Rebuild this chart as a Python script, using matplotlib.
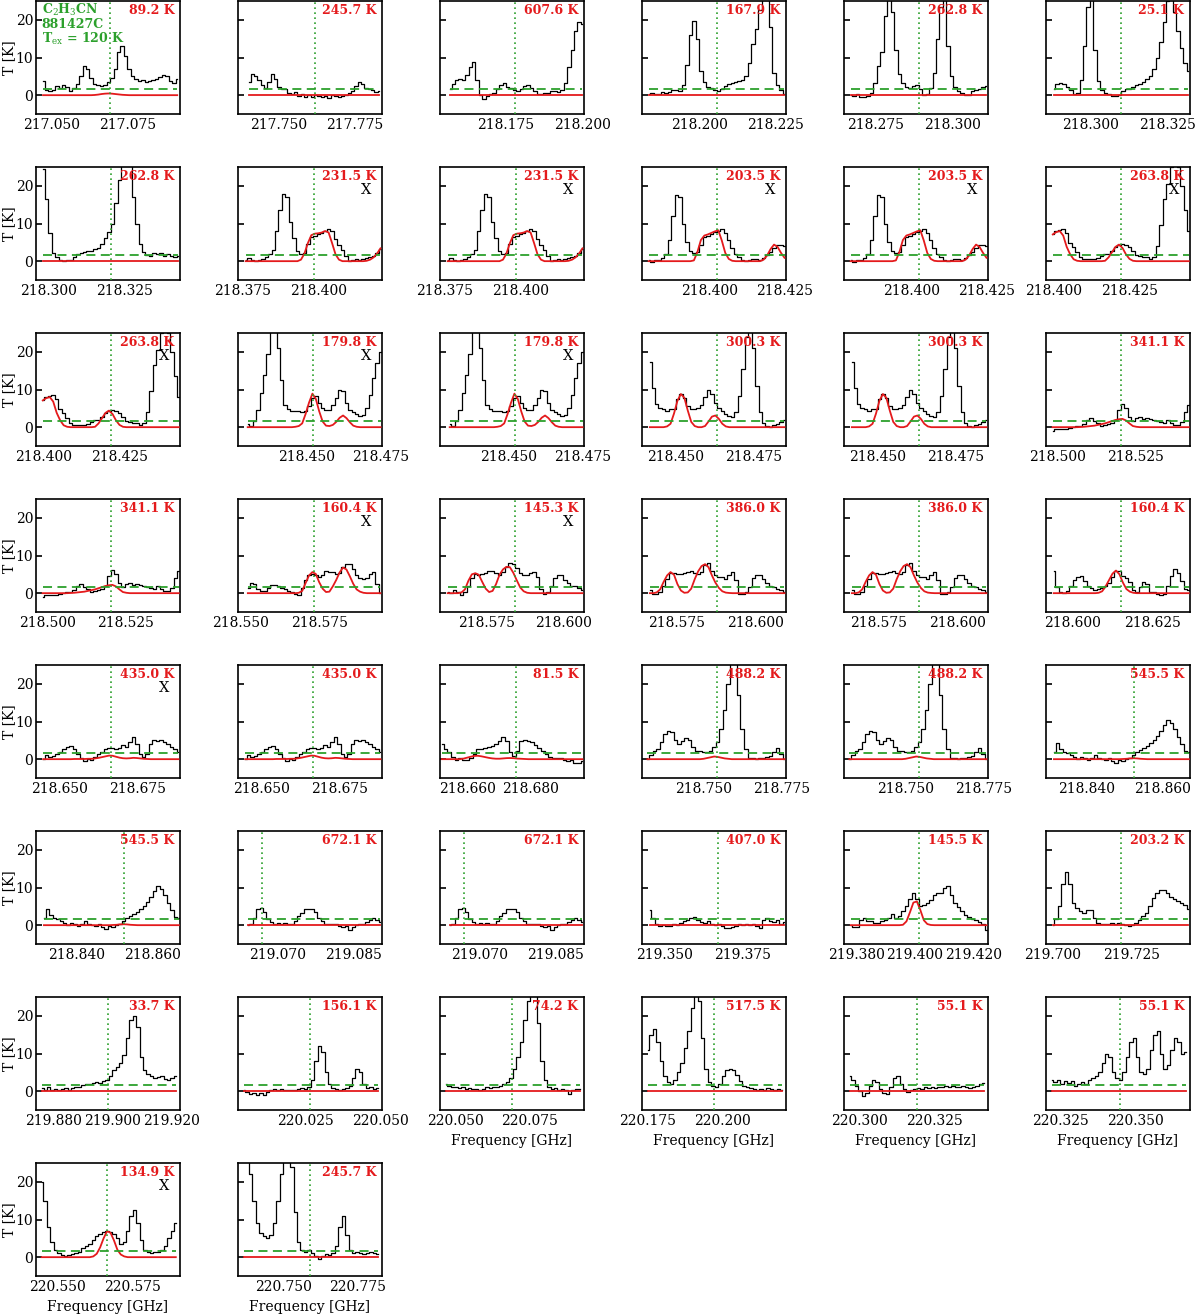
import matplotlib
matplotlib.use("Agg")
import matplotlib.pyplot as plt
import numpy as np

plt.rcParams["font.family"] = "DejaVu Serif"
plt.rcParams["mathtext.fontset"] = "dejavuserif"

GREEN = "#2ca02c"
RED = "#e41a1c"

t_cut = 1.7          # dashed threshold [K]
y_range = (-5, 25)

# ---- observed spectra (T [K]) and model, one pair per frequency window ----
tA = [3.8, 1.5, 1.0, 1.5, 2.4, 2.0, 2.8, 2.2, 1.0, 2.0, 3.0, 5.0, 7.8, 7.0, 4.5, 2.9, 2.6, 2.5, 2.8, 3.5,
      4.5, 7.0, 11.5, 13.0, 10.5, 7.0, 5.0, 4.3, 3.8, 4.0, 3.6, 3.8, 4.0, 4.2, 4.8, 5.3, 5.0, 3.8, 3.3, 4.2]
mA = [0] * 15 + [0.05, 0.15, 0.3, 0.4, 0.45, 0.4, 0.3, 0.2, 0.1, 0.05] + [0] * 15
tB = [3.4, 5.5, 5.0, 4.0, 2.6, 1.9, 3.5, 5.6, 4.3, 2.2, 1.7, 1.6, 0.5, 0.2, 0.9, -0.2, 0.4, -0.6, 0.0, -0.4,
      0.1, -0.3, -0.6, -0.2, -0.8, 0.0, -0.2, -0.6, -0.2, 0.1, 0.5, 1.2, 2.5, 3.6, 2.9, 2.0, 1.6, 1.3, 0.8, 1.2]
mB = [0] * 40
tC = [1.6, 3.0, 3.9, 4.4, 3.9, 5.3, 7.6, 8.8, 4.0, 0.0, -1.1, -0.2, 0.3, 0.7, 1.7, 2.6, 3.3, 2.2, 1.9, 1.4,
      1.2, 1.6, 2.5, 2.8, 1.8, 1.0, 0.4, 0.4, 0.7, 0.6, 1.0, 1.2, 0.8, 1.3, 3.2, 7.5, 12.0, 17.0, 19.5, 18.8]
mC = [0] * 40
tD = [0.3, 0.7, 0.2, 0.3, 0.8, 0.6, 0.9, 1.4, 1.5, 1.0, 2.6, 8.0, 16.0, 19.8, 15.0, 6.5, 3.4, 2.3, 1.9, 1.4,
      1.2, 1.6, 2.5, 3.0, 3.3, 3.4, 3.8, 4.0, 5.0, 8.5, 13.5, 17.5, 22.5, 27, 28, 18, 6.0, 2.8, 1.4, 0.4]
mD = [0] * 40
tE = [0.0, -0.2, 0.3, -0.5, -0.5, -0.2, 0.6, 3.2, 7.8, 11.5, 21, 27, 22, 12, 5.5, 3.3, 2.3, 1.9, 2.4, 2.8,
      1.6, 0.1, 0.4, 2.0, 6.0, 15.0, 23.5, 27, 13, 5.0, 2.1, 1.2, 0.5, 0.1, 0.1, 1.2, 1.4, 1.6, 2.3, 2.5]
mE = [0] * 40
tF = [1.6, 3.0, 3.1, 2.9, 2.2, 1.3, 0.3, 0.5, 4.0, 13, 23.4, 26, 12, 3.8, 1.3, 0.5, 0.2, -0.1, -0.2, 0.0,
      1.0, 1.6, 1.6, 2.3, 2.6, 3.0, 3.5, 4.3, 5.1, 7.0, 10.0, 14, 19.5, 25, 26, 22, 17, 12.5, 8.5, 6.5]
mF = [0] * 40
tG = [24.4, 16.5, 7.5, 2.2, 1.0, 0.4, 0.0, 0.2, 0.4, 1.0, 2.0, 2.3, 2.4, 2.6, 2.8, 3.1, 3.5, 4.6, 6.2, 7.8,
      10.0, 15.5, 21.5, 25.5, 28, 26, 17, 10, 4.5, 2.4, 1.7, 1.3, 2.2, 1.8, 2.2, 1.5, 2.0, 1.3, 1.2, 1.5]
mG = [0] * 40
tH = [0.4, 0.9, 0.4, 0.1, 0.3, 0.7, 1.1, 1.9, 3.0, 8.0, 13.5, 17.8, 17.0, 10.5, 6.2, 2.8, 1.8, 2.3, 4.5, 6.5,
      6.8, 7.1, 7.5, 8.0, 8.6, 7.9, 5.8, 4.3, 2.9, 1.4, 0.0, 0.3, 0.5, 0.4, 0.6, 0.8, 1.0, 1.3, 2.1, 3.3]
mH = [0] * 16 + [0.4, 2.0, 4.8, 6.9, 7.3, 7.4, 7.6, 8.0, 7.6, 4.8, 1.8, 0.4] + [0] * 7 + [0.1, 0.4, 1.0, 2.0, 3.4]
tI = [0.3, -0.3, 0.3, 0.4, 0.9, 1.8, 5.5, 12.0, 17.5, 17.0, 10.0, 5.0, 2.6, 2.2, 2.5, 4.3, 6.3, 6.8, 7.1, 7.7,
      8.0, 8.5, 7.5, 5.5, 3.6, 1.8, 1.0, 0.3, 0.0, 0.3, 0.6, 0.5, 0.4, 0.9, 1.6, 2.4, 3.5, 4.4, 4.4, 4.0]
mI = [0] * 13 + [0.2, 2.4, 5.6, 6.8, 7.1, 7.5, 7.9, 8.2, 5.5, 2.2, 0.6, 0.1] + [0] * 8 + [0.4, 1.5, 3.2, 4.4, 3.8, 2.2, 0.9]
tJ = [7.1, 7.9, 8.4, 8.6, 7.5, 4.9, 3.7, 2.4, 1.2, 0.5, 0.5, 0.5, 0.6, 0.9, 1.3, 1.8, 2.0, 2.8, 3.8, 4.4,
      4.6, 4.4, 3.8, 2.6, 1.7, 1.3, 1.2, 1.0, 0.5, 1.2, 4.0, 9.5, 16.5, 20.5, 25, 27, 25, 20, 13.5, 8.0]
mJ = [7.1, 7.7, 8.0, 6.8, 3.8, 1.8, 0.5, 0.1] + [0] * 7 + [0.1, 1.0, 2.4, 3.8, 4.4, 3.5, 1.8, 0.6, 0.1] + [0] * 16
tK = [0.9, 0.3, 1.6, 4.5, 9.0, 13.8, 19.5, 25.5, 28, 21, 12.5, 6.0, 4.7, 4.4, 4.2, 4.4, 4.1, 4.2, 5.5, 7.8,
      8.3, 6.5, 5.0, 4.5, 4.6, 5.8, 7.8, 9.8, 9.6, 6.4, 4.5, 4.1, 3.4, 2.9, 3.3, 5.0, 8.5, 13.0, 17.0, 20.0]
mK = [0] * 14 + [0.1, 0.3, 1.0, 3.5, 6.5, 8.9, 7.5, 4.2, 1.5, 0.4, 0.3, 0.6, 1.4, 2.5, 3.1, 2.4, 1.3, 0.4, 0.1] + [0] * 7
tL = [17.3, 10.5, 6.2, 5.1, 4.7, 4.4, 4.8, 4.7, 7.6, 8.9, 7.8, 5.6, 4.8, 4.7, 5.0, 6.0, 8.0, 10.0, 8.8, 6.3,
      5.1, 4.3, 3.6, 2.9, 2.7, 4.0, 8.4, 15.5, 24.0, 28, 21, 11, 4.0, 1.2, 0.2, 0.1, 0.5, 0.9, 1.3, 2.0]
mL = [0, 0, 0, 0, 0, 0.2, 0.9, 3.6, 7.0, 8.8, 7.8, 4.4, 1.4, 0.3, 0, 0, 0.3, 1.5, 2.8, 3.1, 2.2, 0.9, 0.2] + [0] * 17
tM = [-0.9, -0.5, -0.6, -0.4, -0.5, -0.3, 0.0, 0.2, 0.4, 0.9, 1.8, 2.4, 1.7, 1.1, 0.4, 0.6, 0.9, 1.2, 2.0, 4.6,
      6.2, 5.0, 2.6, 1.7, 2.5, 2.6, 2.2, 2.4, 2.1, 1.9, 1.6, 1.3, 1.2, 1.8, 1.2, 0.5, 0.5, 1.5, 4.0, 5.8]
mM = [0] * 8 + [0.05, 0.1, 0.2, 0.3, 0.4, 0.6, 0.8, 1.0, 1.3, 1.6, 1.9, 2.1, 2.2, 1.8, 1.0, 0.3, 0.1] + [0] * 15
tN = [1.3, 2.6, 2.4, 1.2, 0.5, 0.6, 1.4, 2.2, 2.3, 1.8, 1.3, 1.0, 0.6, 0.2, -0.3, -0.5, 1.5, 3.4, 4.8, 5.2,
      4.8, 4.3, 4.8, 5.9, 5.5, 5.5, 5.2, 5.4, 7.0, 7.8, 7.8, 6.3, 4.8, 4.0, 3.7, 4.0, 5.0, 5.5, 2.5, 0.0]
mN = [0] * 15 + [0.1, 0.6, 2.7, 4.7, 5.6, 5.1, 2.9, 1.2, 0.3, 0.4, 1.8, 3.5, 5.5, 6.8, 6.3, 4.5, 2.5, 1.0, 0.4, 0.1] + [0] * 5
tO = [0.4, 0.0, 0.8, 0.4, -0.4, 0.3, 2.0, 4.0, 5.2, 4.9, 5.0, 5.4, 5.8, 6.0, 5.4, 4.9, 5.6, 6.9, 7.9, 7.8,
      6.6, 5.4, 4.8, 4.8, 5.3, 5.7, 4.2, 1.0, -0.3, 0.4, 2.0, 4.1, 4.8, 4.7, 3.6, 2.6, 2.0, 1.8, 1.3, 0.9]
mO = [0, 0, 0, 0, 0.2, 1.0, 3.3, 5.0, 5.3, 4.9, 3.0, 1.2, 0.3, 0.6, 2.4, 4.9, 6.3, 7.0, 6.9, 5.4, 3.4, 1.5, 0.5, 0.1] + [0] * 16
tP = [0.9, -0.1, -0.3, 0.4, 2.0, 3.8, 5.3, 5.4, 5.0, 5.0, 5.4, 5.6, 6.0, 5.3, 5.1, 5.7, 7.5, 7.9, 6.0, 4.8,
      4.4, 4.2, 3.7, 4.9, 5.7, 3.5, -0.1, -0.2, 0.4, 1.6, 4.0, 4.8, 4.7, 3.8, 2.8, 2.0, 1.6, 1.2, 0.9, 0.4]
mP = [0, 0, 0.2, 1.0, 3.0, 4.7, 5.6, 4.9, 2.4, 0.7, 0.1, 0.2, 1.2, 3.7, 5.8, 7.2, 7.7, 6.9, 4.7, 2.8, 1.4, 0.5, 0.15, 0.05] + [0] * 16
tQ = [5.8, 1.6, 0.3, 0.0, 0.5, 2.0, 3.5, 4.4, 4.5, 3.3, 2.0, 1.3, 0.9, 1.1, 1.5, 1.9, 2.6, 4.2, 5.8, 5.8,
      4.6, 3.9, 2.9, 0.8, 0.3, 1.6, 3.0, 2.5, 0.3, 0.2, -0.1, -0.4, -0.2, 1.8, 4.5, 6.5, 5.4, 3.2, 1.2, 0.9]
mQ = [0] * 13 + [0.1, 0.5, 1.8, 3.5, 5.2, 6.0, 5.0, 2.8, 1.1, 0.4, 0.1] + [0] * 16
tR = [0.0, 1.1, 0.6, 0.8, 1.4, 2.0, 2.7, 3.3, 3.6, 2.6, 1.4, 0.3, -0.4, 0.1, -0.2, 0.5, 1.5, 2.0, 2.7, 2.9,
      2.9, 2.7, 3.0, 3.8, 3.2, 4.5, 6.0, 4.0, 1.3, 0.5, 1.5, 4.0, 5.2, 4.9, 5.1, 4.6, 4.0, 3.3, 2.6, 1.8]
mR = [0] * 9 + [0.05, 0.05, 0.05, 0.05, 0.1, 0.1, 0.2, 0.35, 0.55, 0.75, 0.95, 0.9, 0.65, 0.4, 0.25, 0.2,
                0.25, 0.35, 0.3, 0.2, 0.1, 0.05] + [0] * 9
tS = [4.0, 2.8, 1.9, 0.6, -0.2, 0.3, -0.3, -0.1, 0.3, 1.4, 2.6, 2.8, 3.0, 3.2, 3.4, 4.0, 4.9, 5.9, 4.9, 1.8,
      0.9, 2.3, 4.8, 5.1, 4.9, 4.5, 3.7, 2.9, 2.2, 1.4, 0.7, 0.3, 0.4, 0.2, -0.3, -0.5, -0.1, -1.1, -0.9, -0.4]
mS = [0] * 6 + [0.15, 0.4, 0.65, 0.85, 0.9, 0.75, 0.55, 0.35, 0.2, 0.12, 0.12, 0.2, 0.28, 0.3, 0.25, 0.15, 0.1, 0.05] + [0] * 16
tT = [0.0, 1.0, 2.2, 2.7, 4.6, 6.8, 7.6, 7.3, 5.2, 4.1, 4.9, 5.5, 5.0, 3.3, 2.1, 2.1, 2.0, 1.9, 2.3, 3.2,
      4.6, 8.0, 13.0, 20.0, 26, 26, 17, 8.0, 2.6, 0.4, 0.2, 0.1, 0.3, 0.4, 0.6, 0.9, 1.9, 3.0, 1.5, 0.0]
mT = [0] * 16 + [0.1, 0.3, 0.5, 0.7, 0.6, 0.4, 0.2, 0.1] + [0] * 16
tU = [1.8, 4.3, 2.6, 1.9, 1.6, 1.1, 0.5, 0.0, 0.6, 0.2, -0.1, 0.4, 1.2, 0.3, 0.0, -0.2, 0.3, -0.6, -0.9, -0.3,
      -0.4, 0.0, 0.4, 1.0, 1.8, 2.4, 3.0, 3.6, 4.2, 5.0, 6.2, 7.4, 9.0, 10.4, 9.7, 8.0, 6.0, 4.0, 2.3, 1.8]
mU = [0] * 20 + [0.05, 0.1, 0.2, 0.25, 0.2, 0.1, 0.05] + [0] * 13
tV = [0.0, 0.4, 1.8, 4.2, 4.6, 3.4, 1.7, 0.9, 0.4, 0.6, 0.4, 0.6, 0.3, 0.4, 1.2, 2.4, 3.3, 4.2, 4.4, 4.2,
      3.4, 2.0, 1.0, 0.4, 0.3, 0.4, 0.3, -0.2, -0.4, -0.3, -1.2, -0.5, 0.0, 0.3, 0.4, 0.9, 1.4, 1.8, 1.4, 0.9]
mV = [0] * 40
tW = [4.0, 2.0, 0.4, -0.3, 0.0, -0.3, -0.1, 0.3, 0.1, 0.6, 1.1, 1.5, 1.8, 2.1, 1.4, 0.8, 0.7, 1.2, 0.4, 0.0,
      0.2, -0.2, -0.8, -0.8, -0.6, -0.3, 0.3, 0.1, 0.3, 0.0, 0.4, -0.2, -0.8, 1.5, 2.0, 1.2, 0.9, 1.3, 0.4, 0.9]
mW = [0] * 40
tX = [0.0, -0.6, -0.4, 1.3, 1.8, 1.0, 1.2, 0.7, 0.6, 1.1, 1.3, 1.8, 2.9, 1.9, 2.5, 3.8, 5.0, 7.0, 8.5, 7.0,
      5.1, 5.3, 6.0, 6.7, 8.0, 8.5, 8.6, 9.8, 10.4, 8.0, 6.0, 4.8, 3.7, 2.7, 2.1, 1.6, 1.3, 0.9, 0.3, -1.2]
mX = [0] * 15 + [0.1, 1.0, 3.4, 6.0, 6.3, 4.0, 1.3, 0.3, 0.05] + [0] * 16
tY = [0.0, 1.6, 5.0, 11.0, 14.2, 11.0, 6.0, 4.6, 3.8, 3.2, 4.0, 4.0, 2.0, 0.7, 0.4, 0.4, 0.3, 0.6, 0.4, 0.6,
      0.3, 0.1, -0.2, 0.0, 0.6, 1.5, 2.5, 3.3, 5.2, 7.3, 8.6, 9.3, 9.4, 8.5, 7.5, 7.0, 6.5, 5.9, 5.3, 4.4]
mY = [0] * 40
tZ = [0.8, 0.4, 1.0, 0.3, 0.6, 0.2, 0.5, 0.9, 0.4, 0.8, 1.2, 1.0, 1.6, 2.0, 1.8, 2.2, 2.5, 2.3, 2.8, 3.0,
      4.0, 5.5, 6.5, 7.5, 9.5, 14.0, 19.0, 20.0, 17.0, 9.0, 5.5, 4.5, 4.0, 3.5, 3.8, 4.0, 3.2, 3.0, 3.6, 4.0]
mZ = [0] * 40
tAA = [0.2, -0.3, -0.8, -0.5, -1.0, -0.4, -0.9, -0.3, 0.2, 0.5, 0.3, 0.6, 0.4, 0.2, 0.4, 0.3, 0.6, 0.8, 0.5, 1.2,
       3.0, 8.0, 12.0, 10.5, 5.0, 2.0, 0.8, 0.5, 0.3, 0.6, 0.8, 1.5, 3.5, 6.0, 5.0, 2.0, 0.8, 1.0, 0.6, 0.8]
mAA = [0] * 40
tAB = [2.0, 1.5, 1.0, 1.2, 0.8, 1.0, 0.6, 0.9, 0.5, 0.7, 0.4, 0.6, 1.0, 0.8, 1.2, 1.0, 1.5, 2.0, 2.5, 3.5,
       6.0, 9.0, 13.0, 19.0, 24.0, 27.0, 26.0, 18.0, 8.0, 3.0, 1.0, 0.5, 0.8, 0.4, 0.6, 0.2, -0.8, 0.3, 0.5, 0.6]
mAB = [0] * 40
tAC = [11.0, 15.0, 16.5, 13.0, 8.0, 4.0, 2.5, 2.0, 3.0, 5.0, 7.5, 11.5, 16.0, 22.0, 27.0, 24.0, 14.0, 6.0, 2.5, 1.5,
       1.2, 2.0, 4.0, 5.5, 6.0, 5.5, 4.2, 2.8, 1.5, 1.0, 0.8, 0.5, 0.3, 0.6, 0.4, 0.8, 0.6, 0.3, 0.5, 0.4]
mAC = [0] * 40
tAD = [4.0, 3.0, 1.5, 0.0, -1.2, -0.5, 1.5, 3.0, 2.5, 0.5, -0.5, -0.8, 1.0, 3.5, 4.0, 2.0, 0.5, -0.3, 0.2, 0.5,
       0.8, 0.6, 1.0, 0.8, 1.2, 0.9, 1.1, 1.0, 1.3, 1.2, 1.5, 1.2, 1.0, 1.4, 1.1, 0.8, 1.0, 1.5, 2.0, 2.2]
mAD = [0] * 40
tAE = [3.0, 2.5, 3.0, 2.0, 2.8, 2.2, 2.6, 1.5, 1.8, 2.5, 2.0, 3.0, 3.5, 4.0, 5.0, 7.5, 10.0, 9.0, 5.0, 3.5,
       3.0, 5.0, 9.0, 13.0, 14.0, 9.0, 5.0, 4.5, 6.0, 11.0, 15.0, 16.0, 10.0, 6.0, 7.0, 11.0, 14.0, 13.0, 10.0, 10.5]
mAE = [0] * 40
tAF = [20.0, 15.0, 8.0, 4.0, 2.0, 1.0, 0.5, 0.3, 0.6, 0.8, 1.0, 1.5, 2.5, 3.0, 3.5, 4.5, 5.5, 6.2, 6.8, 7.0,
       6.8, 6.2, 5.0, 3.5, 4.0, 7.0, 11.0, 12.5, 9.0, 4.5, 2.0, 1.5, 1.2, 1.5, 1.3, 2.0, 3.0, 5.0, 7.0, 9.0]
mAF = [0] * 15 + [0.2, 0.9, 2.6, 5.0, 6.9, 6.5, 4.5, 2.0, 0.7, 0.2] + [0] * 15
tAG = [30, 28, 22, 15, 9, 6.5, 5.5, 5.0, 6.0, 9.0, 15.0, 22, 28, 30, 24, 12, 4.0, 2.0, 1.5, 1.8,
       1.2, 0.2, -0.5, 0.3, 0.8, 0.5, 1.0, 3.0, 8.0, 11.0, 6.0, 2.0, 1.0, 1.5, 1.2, 0.8, 1.0, 1.3, 1.0, 0.8]
mAG = [0] * 40

seg_obs = [tA, tB, tC, tD, tE, tF, tG, tH, tI, tJ, tK, tL, tM, tN, tO, tP, tQ, tR, tS, tT, tU, tV,
           tW, tX, tY, tZ, tAA, tAB, tAC, tAD, tAE, tAF, tAG]
seg_mod = [mA, mB, mC, mD, mE, mF, mG, mH, mI, mJ, mK, mL, mM, mN, mO, mP, mQ, mR, mS, mT, mU, mV,
           mW, mX, mY, mZ, mAA, mAB, mAC, mAD, mAE, mAF, mAG]

# first / last channel frequency of each window [GHz]
seg_f0 = [217.0473, 217.7405, 218.1567, 218.1835, 218.2669, 218.2880, 218.2983, 218.3761, 218.3797,
          218.3998, 218.4298, 218.4417, 218.4985, 218.5524, 218.5622, 218.5663, 218.5940, 218.6448,
          218.6520, 218.7321, 218.8313, 219.0640, 219.3451, 219.3781, 219.7001, 219.8760, 220.0044,
          220.0469, 220.1752, 220.2966, 220.3222, 220.5448, 220.7369]
seg_f1 = [217.0911, 217.7830, 218.2000, 218.2278, 218.3112, 218.3320, 218.3425, 218.4201, 218.4250,
          218.4442, 218.4750, 218.4847, 218.5422, 218.5943, 218.6062, 218.6093, 218.6362, 218.6882,
          218.6966, 218.7759, 218.8670, 219.0903, 219.3886, 219.4246, 219.7428, 219.9215, 220.0491,
          220.0916, 220.2199, 220.3413, 220.3669, 220.5895, 220.7816]
# axis limits of each window
seg_xlo = [217.0450, 217.7369, 218.1535, 218.1813, 218.2647, 218.2855, 218.2960, 218.3736, 218.3775,
           218.3976, 218.4265, 218.4392, 218.4964, 218.5493, 218.5597, 218.5638, 218.5916, 218.6425,
           218.6514, 218.7304, 218.8292, 219.0621, 219.3426, 219.3758, 219.6980, 219.8740, 220.0025,
           220.0450, 220.1733, 220.2947, 220.3203, 220.5429, 220.7350]
seg_xhi = [217.0920, 217.7839, 218.2005, 218.2283, 218.3117, 218.3325, 218.3430, 218.4206, 218.4255,
           218.4446, 218.4755, 218.4852, 218.5426, 218.5948, 218.6067, 218.6098, 218.6366, 218.6887,
           218.6971, 218.7764, 218.8673, 219.0906, 219.3891, 219.4251, 219.7433, 219.9230, 220.0505,
           220.0930, 220.2213, 220.3427, 220.3683, 220.5909, 220.7830]
seg_ticks = [[217.050, 217.075], [217.750, 217.775], [218.175, 218.200], [218.200, 218.225],
             [218.275, 218.300], [218.300, 218.325], [218.300, 218.325], [218.375, 218.400],
             [218.400, 218.425], [218.400, 218.425], [218.450, 218.475], [218.450, 218.475],
             [218.500, 218.525], [218.550, 218.575], [218.575, 218.600], [218.575, 218.600],
             [218.600, 218.625], [218.650, 218.675], [218.660, 218.680], [218.750, 218.775],
             [218.840, 218.860], [219.070, 219.085], [219.350, 219.375], [219.380, 219.400, 219.420],
             [219.700, 219.725], [219.880, 219.900, 219.920], [220.025, 220.050], [220.050, 220.075],
             [220.175, 220.200], [220.300, 220.325], [220.325, 220.350], [220.550, 220.575],
             [220.750, 220.775]]

# ---- one entry per panel ----
panel_seg = [0, 1, 2, 3, 4, 5, 6, 7, 7, 8, 8, 9, 9, 10, 10, 11, 11, 12, 12, 13, 14, 15, 15, 16,
             17, 17, 18, 19, 19, 20, 20, 21, 21, 22, 23, 24, 25, 26, 27, 28, 29, 30, 31, 32]
panel_freq = [217.0693, 217.762, 218.178, 218.2059, 218.2891, 218.3099, 218.3205, 218.3984, 218.3984,
              218.4024, 218.4024, 218.422, 218.422, 218.452, 218.452, 218.4633, 218.4633, 218.5204,
              218.5204, 218.5733, 218.5842, 218.5879, 218.5879, 218.615, 218.6666, 218.6666, 218.6755,
              218.7545, 218.7545, 218.8525, 218.8525, 219.0669, 219.0669, 219.367, 219.4014, 219.7215,
              219.8985, 220.0265, 220.069, 220.1973, 220.319, 220.345, 220.5666, 220.759]
panel_eup = [89.2, 245.7, 607.6, 167.9, 262.8, 25.1, 262.8, 231.5, 231.5, 203.5, 203.5, 263.8,
             263.8, 179.8, 179.8, 300.3, 300.3, 341.1, 341.1, 160.4, 145.3, 386.0, 386.0, 160.4,
             435.0, 435.0, 81.5, 488.2, 488.2, 545.5, 545.5, 672.1, 672.1, 407.0, 145.5, 203.2,
             33.7, 156.1, 74.2, 517.5, 55.1, 55.1, 134.9, 245.7]
panel_blend = [7, 8, 9, 10, 11, 12, 13, 14, 19, 20, 24, 42]
panel_xlabel = [38, 39, 40, 41, 42, 43]

W, H = 1200, 1315
fig = plt.figure(figsize=(W / 100, H / 100), dpi=100)

for k in range(len(panel_seg)):
    row, col = divmod(k, 6)
    left = (36 + 202 * col) / W
    top = 1 + 166 * row
    ax = fig.add_axes([left, 1 - (top + 113) / H, 144 / W, 113 / H])

    s = panel_seg[k]
    obs = np.array(seg_obs[s])
    mod = np.array(seg_mod[s], dtype=float)
    freq = np.linspace(seg_f0[s], seg_f1[s], len(obs))

    ax.step(freq, obs, where="mid", color="black", lw=0.9, zorder=2)
    ax.plot(freq, mod, color=RED, lw=1.3, zorder=3)
    ax.hlines(t_cut, seg_f0[s], seg_f1[s], colors=GREEN, linestyles=(0, (5, 3)), lw=1.3, zorder=4)
    ax.axvline(panel_freq[k], color=GREEN, ls=(0, (1, 2)), lw=1.2, zorder=4)

    ax.set_xlim(seg_xlo[s], seg_xhi[s])
    ax.set_ylim(*y_range)
    ax.set_xticks(seg_ticks[s])
    ax.set_xticklabels(["%.3f" % t for t in seg_ticks[s]])
    ax.set_yticks([0, 10, 20])
    ax.tick_params(axis="x", length=0, pad=3, labelsize=10)
    ax.tick_params(axis="y", direction="in", length=4.5, width=1.2, labelsize=10, pad=2,
                   labelleft=(col == 0))
    for sp in ax.spines.values():
        sp.set_linewidth(1.2)

    if col == 0:
        ax.set_ylabel("T [K]", fontsize=10)
        ax.yaxis.set_label_coords(-0.14, 0.5)
    if k in panel_xlabel:
        ax.set_xlabel("Frequency [GHz]", fontsize=10, labelpad=4)

    ax.text(0.96, 0.97, "%.1f K" % panel_eup[k], transform=ax.transAxes, ha="right", va="top",
            color=RED, fontsize=9, fontweight="bold")
    if k in panel_blend:
        ax.text(0.89, 0.80, "X", transform=ax.transAxes, ha="center", va="center",
                color="black", fontsize=10.5)
    if k == 0:
        ax.text(0.04, 0.995, "C$_2$H$_3$CN\n881427C\nT$_{\\rm ex}$ = 120 K", transform=ax.transAxes,
                ha="left", va="top", color=GREEN, fontsize=9, fontweight="bold", linespacing=1.0)

fig.savefig("out.png", dpi=100)
